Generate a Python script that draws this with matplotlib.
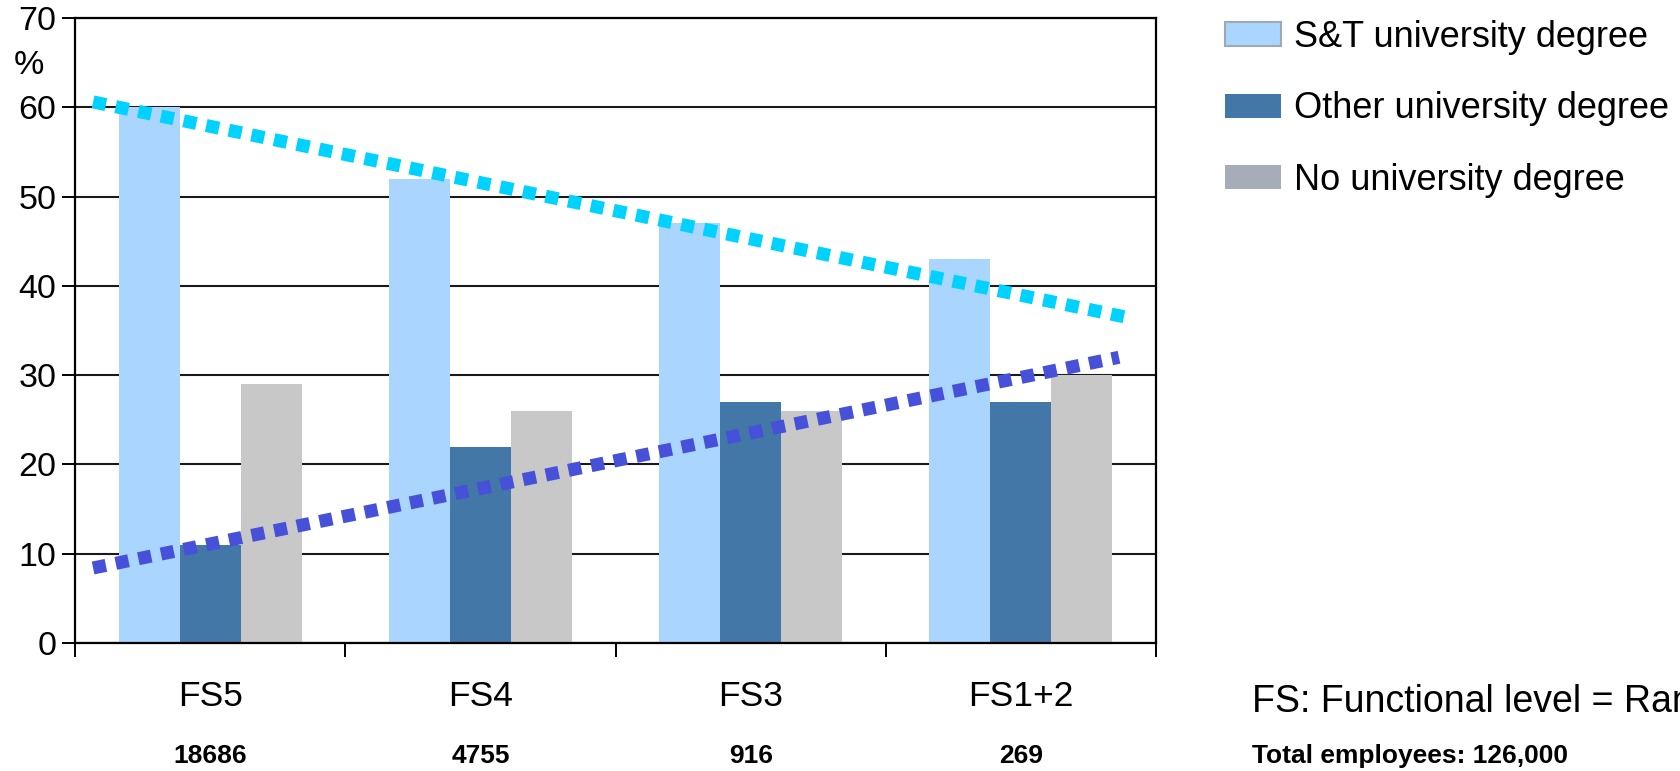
import numpy as np
import matplotlib.pyplot as plt
from matplotlib.patches import Patch
from matplotlib.transforms import blended_transform_factory

plt.rcParams['font.family'] = ['Liberation Sans', 'DejaVu Sans']

# Share of staff by degree type, per functional level
levels = ["FS5", "FS4", "FS3", "FS1+2"]
headcount = ["18686", "4755", "916", "269"]
st_degree = [60, 52, 47, 43]
other_degree = [11, 22, 27, 27]
no_degree = [29, 26, 26, 30]
series_names = ["S&T university degree", "Other university degree", "No university degree"]

# Trend lines (start/end in category units and value)
trend_x_st = [-0.433, 3.404]
trend_st = [60.6, 36.4]
trend_x_other = [-0.433, 3.363]
trend_other = [8.4, 32.0]

bar_colors = ["#A9D5FF", "#4277A8", "#C8C8C8"]
legend_colors = ["#A9D5FF", "#4277A8", "#A6ADB8"]

W, H = 1681, 771
fig = plt.figure(figsize=(W / 100, H / 100), dpi=100)
ax = fig.add_axes([75 / W, 1 - 643 / H, (1156 - 75) / W, (643 - 18) / H])

x = np.arange(len(levels))
bw = 0.2257
for k, vals in enumerate([st_degree, other_degree, no_degree]):
    ax.bar(x + (k - 1) * bw, vals, width=bw, color=bar_colors[k], zorder=2)

dots = (0, (1, 0.77))
ax.plot(trend_x_st, trend_st, color="#00D2FF", lw=9.4, linestyle=dots, zorder=3)
ax.plot(trend_x_other, trend_other, color="#4650D8", lw=9.4, linestyle=dots, zorder=3)

ax.set_xlim(-0.5, len(levels) - 0.5)
ax.set_ylim(0, 70)
ax.set_yticks(range(0, 71, 10))
ax.yaxis.grid(True, color="#1a1a1a", lw=1.5, zorder=1)
ax.set_axisbelow(True)
ax.tick_params(axis="y", direction="out", length=9.5, width=1.4, pad=4, labelsize=24.5)

# boundaries carry the ticks, centres carry the labels
ax.set_xticks(np.arange(len(levels) + 1) - 0.5)
ax.set_xticklabels([])
ax.set_xticks(x, minor=True)
ax.set_xticklabels(levels, minor=True)
ax.tick_params(axis="x", which="major", direction="out", length=10, width=1.4)
ax.tick_params(axis="x", which="minor", length=0, pad=27, labelsize=25.5)

for s in ax.spines.values():
    s.set_linewidth(1.6)
    s.set_color("black")

trans = blended_transform_factory(ax.transData, fig.transFigure)
for xi, n in zip(x, headcount):
    ax.text(xi, 1 - 756 / H, n, transform=trans, ha="center", va="center",
            fontsize=19, fontweight="bold")

fig.text(29 / W, 1 - 65 / H, "%", ha="center", va="center", fontsize=24.5)
fig.text(1252 / W, 1 - 702 / H, "FS: Functional level = Rank", ha="left", va="center", fontsize=27)
fig.text(1252 / W, 1 - 756 / H, "Total employees: 126,000", ha="left", va="center",
         fontsize=19, fontweight="bold")

handles = [Patch(facecolor=legend_colors[0], edgecolor="#A0A8B4", lw=1.5),
           Patch(facecolor=legend_colors[1], edgecolor="none"),
           Patch(facecolor=legend_colors[2], edgecolor="none")]
fig.legend(handles, series_names, loc="upper left", bbox_to_anchor=(1225 / W, 1 - 20 / H),
           frameon=False, fontsize=26, handlelength=1.55, handleheight=0.66,
           handletextpad=0.36, labelspacing=1.01, borderpad=0, borderaxespad=0)

fig.savefig("out.png", dpi=100)
